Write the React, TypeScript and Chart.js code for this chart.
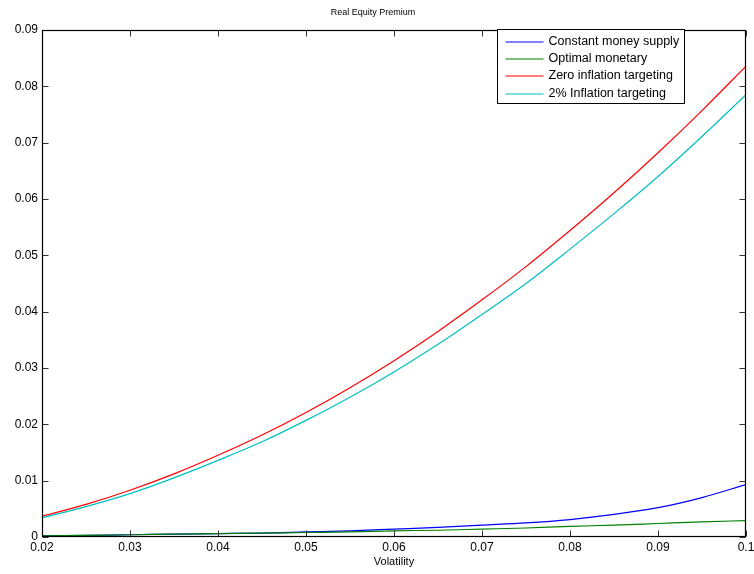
import React, { useEffect, useRef } from "react";
import { Chart, registerables } from "chart.js";

Chart.register(...registerables);

const volatility = [0.02, 0.025, 0.03, 0.035, 0.04, 0.045, 0.05, 0.055, 0.06, 0.065, 0.07, 0.075, 0.08, 0.085, 0.09, 0.095, 0.1];
const constantMoneySupply = [0.0002, 0.0003, 0.0004, 0.0005, 0.0006, 0.0007, 0.0009, 0.0011, 0.0014, 0.0017, 0.0021, 0.0025, 0.0031, 0.004, 0.0052, 0.007, 0.0093];
const optimalMonetary = [0.0002, 0.0003, 0.0004, 0.0005, 0.0006, 0.0007, 0.0008, 0.0009, 0.0011, 0.0012, 0.0014, 0.0016, 0.0019, 0.0021, 0.0024, 0.0027, 0.0029];
const zeroInflationTargeting = [0.0037, 0.0058, 0.0083, 0.0112, 0.0145, 0.0181, 0.0221, 0.0265, 0.0313, 0.0365, 0.0421, 0.048, 0.0544, 0.0611, 0.0682, 0.0757, 0.0836];
const twoPctInflationTargeting = [0.0034, 0.0054, 0.0077, 0.0105, 0.0136, 0.0169, 0.0207, 0.0248, 0.0293, 0.0342, 0.0395, 0.045, 0.0511, 0.0574, 0.064, 0.0711, 0.0785];

const seriesLabels = ["Constant money supply", "Optimal monetary", "Zero inflation targeting", "2% Inflation targeting"];
const seriesColors = ["#0000ff", "#008000", "#ff0000", "#00bfbf"];
const xTickValues = [0.02, 0.03, 0.04, 0.05, 0.06, 0.07, 0.08, 0.09, 0.1];
const yTickValues = [0, 0.01, 0.02, 0.03, 0.04, 0.05, 0.06, 0.07, 0.08, 0.09];

const FONT = '"Liberation Sans", Arial, Helvetica, sans-serif';

const fmt = (v: number) => String(parseFloat(Number(v).toFixed(3)));

const matlabAxes = {
  id: "matlabAxes",
  afterDatasetsDraw(chart: any) {
    const { ctx, chartArea } = chart;
    const { left, right, top, bottom } = chartArea;
    const xs = chart.scales.x;
    const ys = chart.scales.y;
    const L = Math.round(left) + 0.5;
    const R = Math.round(right) - 0.5;
    const T = Math.round(top) + 0.5;
    const B = Math.round(bottom) - 0.5;
    const tl = 6;
    ctx.save();
    ctx.strokeStyle = "#333";
    ctx.lineWidth = 1;
    ctx.beginPath();
    xs.ticks.forEach((t: any) => {
      const px = Math.round(xs.getPixelForValue(t.value)) + 0.5;
      ctx.moveTo(px, B);
      ctx.lineTo(px, B - tl);
      ctx.moveTo(px, T);
      ctx.lineTo(px, T + tl);
    });
    ys.ticks.forEach((t: any) => {
      const py = Math.round(ys.getPixelForValue(t.value)) + 0.5;
      ctx.moveTo(L, py);
      ctx.lineTo(L + tl, py);
      ctx.moveTo(R, py);
      ctx.lineTo(R - tl, py);
    });
    ctx.stroke();
    ctx.strokeStyle = "#000";
    ctx.lineWidth = 1.2;
    ctx.strokeRect(L, T, R - L, B - T);
    ctx.restore();
  },
  afterDraw(chart: any) {
    const { ctx, chartArea } = chart;
    const datasets = chart.data.datasets;
    ctx.save();
    ctx.font = `12.5px ${FONT}`;
    let tw = 0;
    datasets.forEach((d: any) => {
      tw = Math.max(tw, ctx.measureText(d.label).width);
    });
    const boxRight = Math.round(chartArea.right - 62) + 0.5;
    const boxW = Math.round(51 + tw + 5);
    const boxLeft = boxRight - boxW;
    const boxTop = Math.round(chartArea.top - 1) + 0.5;
    const rowH = 17.3;
    const boxH = 74;
    ctx.fillStyle = "#fff";
    ctx.fillRect(boxLeft, boxTop, boxW, boxH);
    ctx.strokeStyle = "#000";
    ctx.lineWidth = 1;
    ctx.strokeRect(boxLeft, boxTop, boxW, boxH);
    datasets.forEach((d: any, i: number) => {
      const cy = Math.round(boxTop + 12.2 + i * rowH);
      ctx.strokeStyle = d.borderColor;
      ctx.lineWidth = 1.2;
      ctx.beginPath();
      ctx.moveTo(boxLeft + 8, cy);
      ctx.lineTo(boxLeft + 46, cy);
      ctx.stroke();
      ctx.fillStyle = "#000";
      ctx.textAlign = "left";
      ctx.textBaseline = "middle";
      ctx.fillText(d.label, boxLeft + 51, cy);
    });
    ctx.restore();
  },
};

const seriesValues = [constantMoneySupply, optimalMonetary, zeroInflationTargeting, twoPctInflationTargeting];

export default function App() {
  const canvasRef = useRef<HTMLCanvasElement | null>(null);

  useEffect(() => {
    if (!canvasRef.current) return;
    const chart = new Chart(canvasRef.current, {
      type: "line",
      data: {
        datasets: seriesLabels.map((label, i) => ({
          label,
          data: volatility.map((v, j) => ({ x: v, y: seriesValues[i][j] })),
          borderColor: seriesColors[i],
          backgroundColor: seriesColors[i],
          borderWidth: 1.2,
          pointRadius: 0,
          fill: false,
          cubicInterpolationMode: "monotone" as const,
          order: 4 - i,
        })),
      },
      options: {
        animation: false,
        responsive: false,
        devicePixelRatio: 1,
        layout: { padding: { top: 0, right: 8, bottom: 0, left: 0 } },
        plugins: {
          legend: { display: false },
          tooltip: { enabled: false },
          title: {
            display: true,
            text: "Real Equity Premium",
            color: "#000",
            font: { family: FONT, size: 9, weight: "normal" },
            padding: { top: 7.5, bottom: 11.7 },
          },
        },
        scales: {
          x: {
            type: "linear",
            min: 0.02,
            max: 0.1,
            afterBuildTicks: (s: any) => {
              s.ticks = xTickValues.map((v) => ({ value: v }));
            },
            afterFit: (s: any) => {
              s.height = 37;
              s.paddingRight = 0;
              s.paddingLeft = 0;
            },
            ticks: {
              callback: (v: any) => fmt(v),
              color: "#000",
              font: { family: FONT, size: 12 },
              padding: 3,
              maxRotation: 0,
              autoSkip: false,
            },
            grid: { display: false, drawTicks: false },
            border: { display: false },
            title: {
              display: true,
              text: "Volatility",
              color: "#000",
              font: { family: FONT, size: 11 },
              padding: { top: 0, bottom: 5 },
            },
          },
          y: {
            type: "linear",
            min: 0,
            max: 0.09,
            afterBuildTicks: (s: any) => {
              s.ticks = yTickValues.map((v) => ({ value: v }));
            },
            afterFit: (s: any) => {
              s.width = 42;
            },
            ticks: {
              callback: (v: any) => fmt(v),
              color: "#000",
              font: { family: FONT, size: 12 },
              padding: 4,
              autoSkip: false,
            },
            grid: { display: false, drawTicks: false },
            border: { display: false },
          },
        },
      },
      plugins: [matlabAxes],
    });
    return () => chart.destroy();
  }, []);

  return (
    <div style={{ position: "absolute", left: 0, top: 0, width: 754, height: 574, background: "#fff" }}>
      <canvas ref={canvasRef} width={754} height={574} style={{ width: 754, height: 574, display: "block" }} />
    </div>
  );
}
